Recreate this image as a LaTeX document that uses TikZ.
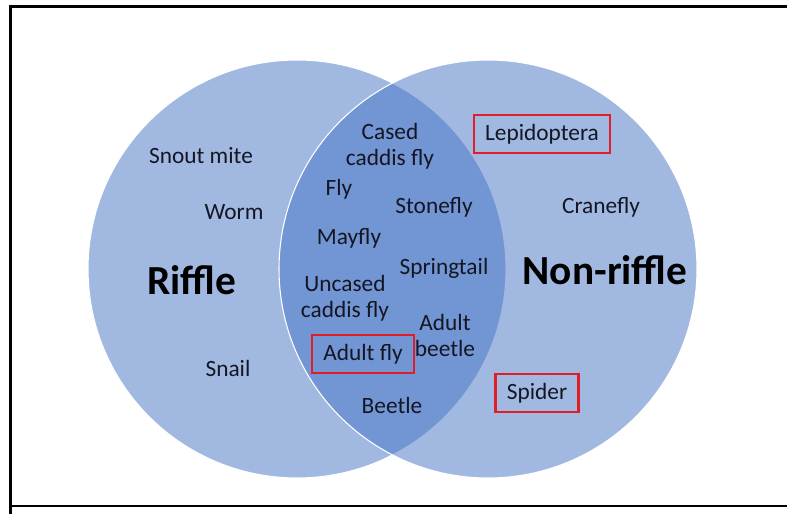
\documentclass[tikz,border=0pt]{standalone}
\usepackage{fontspec}
\setmainfont{Carlito}
\usepackage{xcolor}
\usetikzlibrary{positioning}
\definecolor{vennblue}{RGB}{68,114,196}
\definecolor{labelink}{RGB}{20,22,36}
\definecolor{flagred}{RGB}{224,30,40}
\tikzset{
  setcircle/.style={circle, draw=white, line width=0.8pt, fill=vennblue, fill opacity=0.5, draw opacity=1, minimum size=313.5pt, inner sep=0pt},
  taxon/.style={text=labelink, align=center, inner sep=0pt, font=\fontsize{17.5}{19.5}\selectfont},
  flagbox/.style={taxon, draw=flagred, line width=1.6pt, inner xsep=8.5pt, minimum height=28pt},
  settitle/.style={text=black, inner sep=0pt, font=\fontsize{31}{36}\selectfont\bfseries},
  framerule/.style={line width=1.8pt, draw=black}
}

\begin{document}
\begin{tikzpicture}[x=0.75pt, y=-0.75pt]
    \useasboundingbox (0,0) rectangle (787,514);
    % frame
    \draw[framerule] (787,6.5) -- (10.5,6.5) -- (10.5,514);
    \draw[framerule] (10.5,506) -- (787,506);
    % the two sets
    \node[setcircle] (riffleset) at (297,269) {};
    \node[setcircle] (nonriffleset) at (488,269) {};
    % riffle only
    \node[settitle] (riffle) at (192,280) {Riffle};
    \node[taxon] (snoutmite) at (201,156) {Snout mite};
    \node[taxon] (worm) at (234,212) {Worm};
    \node[taxon] (snail) at (228,368) {Snail};
    % both
    \node[taxon] (cased) at (390,146) {Cased\\caddis fly};
    \node[taxon] (fly) at (339,189) {Fly};
    \node[taxon] (stonefly) at (434,207) {Stonefly};
    \node[taxon] (mayfly) at (349,238) {Mayfly};
    \node[taxon] (springtail) at (444,268) {Springtail};
    \node[taxon] (uncased) at (345,298) {Uncased\\caddis fly};
    \node[flagbox] (adultfly) at (363,354) {Adult fly};
    \node[taxon] (adultbeetle) at (445,335.5) {Adult\\beetle};
    \node[taxon] (beetle) at (392,405) {Beetle};
    % non-riffle only
    \node[settitle] (nonriffle) at (605,270) {Non-riffle};
    \node[flagbox] (lepidoptera) at (542,134) {Lepidoptera};
    \node[taxon] (cranefly) at (601,207) {Cranefly};
    \node[flagbox] (spider) at (537,393) {Spider};
  \end{tikzpicture}
\end{document}
